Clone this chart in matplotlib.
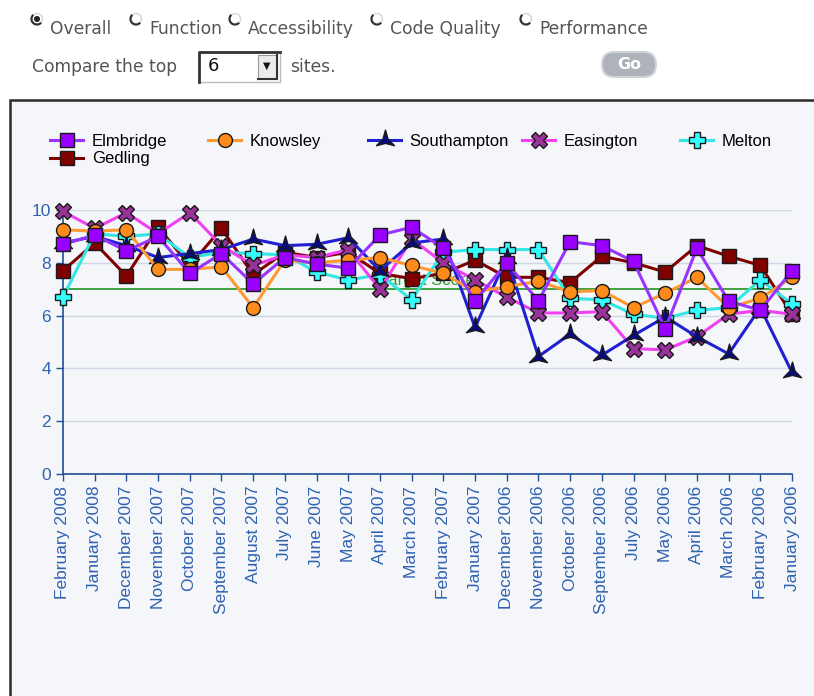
import numpy as np
import matplotlib.pyplot as plt
from matplotlib.patches import Rectangle, FancyBboxPatch, Arc, Circle
from matplotlib.path import Path

months = ["February 2008", "January 2008", "December 2007", "November 2007",
          "October 2007", "September 2007", "August 2007", "July 2007",
          "June 2007", "May 2007", "April 2007", "March 2007",
          "February 2007", "January 2007", "December 2006", "November 2006",
          "October 2006", "September 2006", "July 2006", "May 2006",
          "April 2006", "March 2006", "February 2006", "January 2006"]

elmbridge = [8.7, 9.05, 8.45, 9.0, 7.6, 8.35, 7.2, 8.2, 7.95, 7.8, 9.05, 9.35,
             8.55, 6.55, 8.0, 6.55, 8.8, 8.65, 8.05, 5.5, 8.55, 6.55, 6.2, 7.7]
knowsley = [9.25, 9.2, 9.25, 7.75, 7.75, 7.85, 6.3, 8.1, 8.0, 8.1, 8.2, 7.9,
            7.6, 6.9, 7.1, 7.3, 6.9, 6.95, 6.3, 6.85, 7.45, 6.3, 6.65, 7.45]
southampton = [8.75, 9.0, 8.65, 8.2, 8.35, 8.5, 8.9, 8.65, 8.7, 8.95, 7.7, 8.75,
               8.9, 5.55, 8.2, 4.45, 5.3, 4.5, 5.25, 5.95, 5.2, 4.55, 6.3, 3.85]
easington = [9.95, 9.3, 9.9, 9.1, 9.9, 8.65, 7.9, 8.3, 8.2, 8.5, 7.0, 8.9,
             8.0, 7.35, 6.7, 6.1, 6.1, 6.15, 4.75, 4.7, 5.2, 6.05, 6.2, 6.05]
melton = [6.7, 9.1, 9.0, 9.1, 8.2, 8.4, 8.35, 8.3, 7.65, 7.35, 7.55, 6.6,
          8.4, 8.5, 8.5, 8.5, 6.65, 6.6, 6.05, 5.9, 6.2, 6.3, 7.35, 6.45]
gedling = [7.7, 8.75, 7.5, 9.35, 7.9, 9.3, 7.55, 8.4, 8.2, 8.4, 7.6, 7.4,
           7.6, 8.1, 7.45, 7.45, 7.25, 8.25, 8.0, 7.65, 8.65, 8.25, 7.9, 6.05]
target = 7

options = ["Overall", "Function", "Accessibility", "Code Quality", "Performance"]
top_n = "6"

W, H = 814, 696
fig = plt.figure(figsize=(W / 100, H / 100), dpi=100)
fig.patch.set_facecolor("white")

# page furniture (form controls + chart container) in pixel coords
ui = fig.add_axes([0, 0, 1, 1])
ui.set_xlim(0, W)
ui.set_ylim(H, 0)
ui.axis("off")

form_font = dict(family="DejaVu Sans", color="#555555", fontsize=12.3, va="center")
radio_x = [37, 136, 235, 377, 526]
for i, (rx, name) in enumerate(zip(radio_x, options)):
    ui.add_patch(Arc((rx, 19), 11, 11, theta1=40, theta2=230, color="#333333", lw=1.6))
    ui.add_patch(Arc((rx, 19), 11, 11, theta1=230, theta2=400, color="#d5d5d5", lw=1.0))
    if i == 0:
        ui.add_patch(Circle((rx, 19), 2.3, color="#222222"))
    ui.text(rx + 13, 29, name, **form_font)

ui.text(32, 67, "Compare the top", **form_font)
ui.add_patch(Rectangle((199, 52), 81, 30, facecolor="white", edgecolor="#bbbbbb", lw=1))
ui.plot([199, 199, 280], [82, 52, 52], color="#333333", lw=2)
ui.add_patch(Rectangle((258, 55), 19, 24, facecolor="#ececec", edgecolor="#999999", lw=0.8))
ui.plot([258, 277, 277], [79, 79, 55], color="#333333", lw=1.5)
ui.text(267, 66, "\u25bc", ha="center", va="center", fontsize=7, color="#111111")
ui.text(208, 66, top_n, fontsize=13, va="center", color="#111111")
ui.text(290, 67, "sites.", **form_font)
ui.add_patch(FancyBboxPatch((602, 52), 54, 25,
                            boxstyle="round,pad=0,rounding_size=12.5",
                            facecolor="#aeb3ba", edgecolor="#d0d4d8", lw=1.5))
ui.text(629, 64.5, "Go", ha="center", va="center", fontsize=11.5,
        fontweight="bold", color="white", family="DejaVu Sans")

ui.add_patch(Rectangle((10, 100), W, H, facecolor="#f4f6fa", edgecolor="#2b2b2b", lw=1.8))

# spiky three-pointed star for Southampton
ang_out = np.deg2rad([90, 210, 330])
ang_in = np.deg2rad([150, 270, 30])
verts = []
for a_o, a_i in zip(ang_out, ang_in):
    verts.append((np.cos(a_o), np.sin(a_o)))
    verts.append((0.28 * np.cos(a_i), 0.28 * np.sin(a_i)))
verts.append(verts[0])
tri_star = Path(verts, [Path.MOVETO] + [Path.LINETO] * 5 + [Path.CLOSEPOLY])

# chart
ax = fig.add_axes([63 / W, 1 - 474 / H, (792 - 63) / W, (474 - 210) / H])
ax.set_facecolor("none")
x = np.arange(len(months))

series = [
    ("Elmbridge", elmbridge, "#9933ff", "s", "#9900ff", 9.5),
    ("Knowsley", knowsley, "#ff9933", "o", "#ff8c1a", 10),
    ("Southampton", southampton, "#2020d0", tri_star, "#0a0a80", 15),
    ("Easington", easington, "#f040f0", "X", "#993399", 11),
    ("Melton", melton, "#33e6e6", "P", "#33ffff", 11.5),
    ("Gedling", gedling, "#800000", "s", "#800000", 9.5),
]

ax.axhline(target, color="#339933", lw=1.3, zorder=1)
ax.text(11.5, target + 0.05, "Target Score", color="#339933", ha="center",
        va="bottom", fontsize=12, family="Liberation Sans", zorder=1.5)

handles = {}
for k, (name, vals, lc, mk, mc, ms) in enumerate(series):
    ln, = ax.plot(x, vals, color=lc, lw=2.2, marker=mk, markersize=ms,
                  markerfacecolor=mc, markeredgecolor="#1a1a1a", markeredgewidth=1.0,
                  clip_on=False, zorder=10 - k, label=name)
    handles[name] = ln

ax.set_xlim(0, len(months) - 1)
ax.set_ylim(0, 10)
ax.set_yticks([0, 2, 4, 6, 8, 10])
ax.set_xticks(x)
ax.set_xticklabels(months, rotation=90, family="Liberation Sans")
for lab in ax.get_yticklabels():
    lab.set_family("Liberation Sans")
ax.grid(axis="y", color="#cfd6e4", lw=1)
ax.set_axisbelow(True)
ax.tick_params(colors="#1f4f96", labelcolor="#2f62b0", labelsize=12.5,
               length=5, width=1)
for s in ["top", "right"]:
    ax.spines[s].set_visible(False)
for s in ["left", "bottom"]:
    ax.spines[s].set_color("#1f4f96")
    ax.spines[s].set_linewidth(1.2)

# legend: fixed-width columns like the original
columns = [["Elmbridge", "Gedling"], ["Knowsley"], ["Southampton"], ["Easington"], ["Melton"]]
col_x = [50, 208, 368, 522, 680]
for cx, names in zip(col_x, columns):
    leg = fig.legend([handles[n] for n in names], names, loc="upper left",
                     bbox_to_anchor=(cx / W, 1 - 134 / H), frameon=False,
                     borderpad=0, borderaxespad=0, handlelength=2.0,
                     handletextpad=0.5, labelspacing=0.15, numpoints=1,
                     prop={"family": "Liberation Sans", "size": 12})

fig.savefig("out.png", dpi=100)
